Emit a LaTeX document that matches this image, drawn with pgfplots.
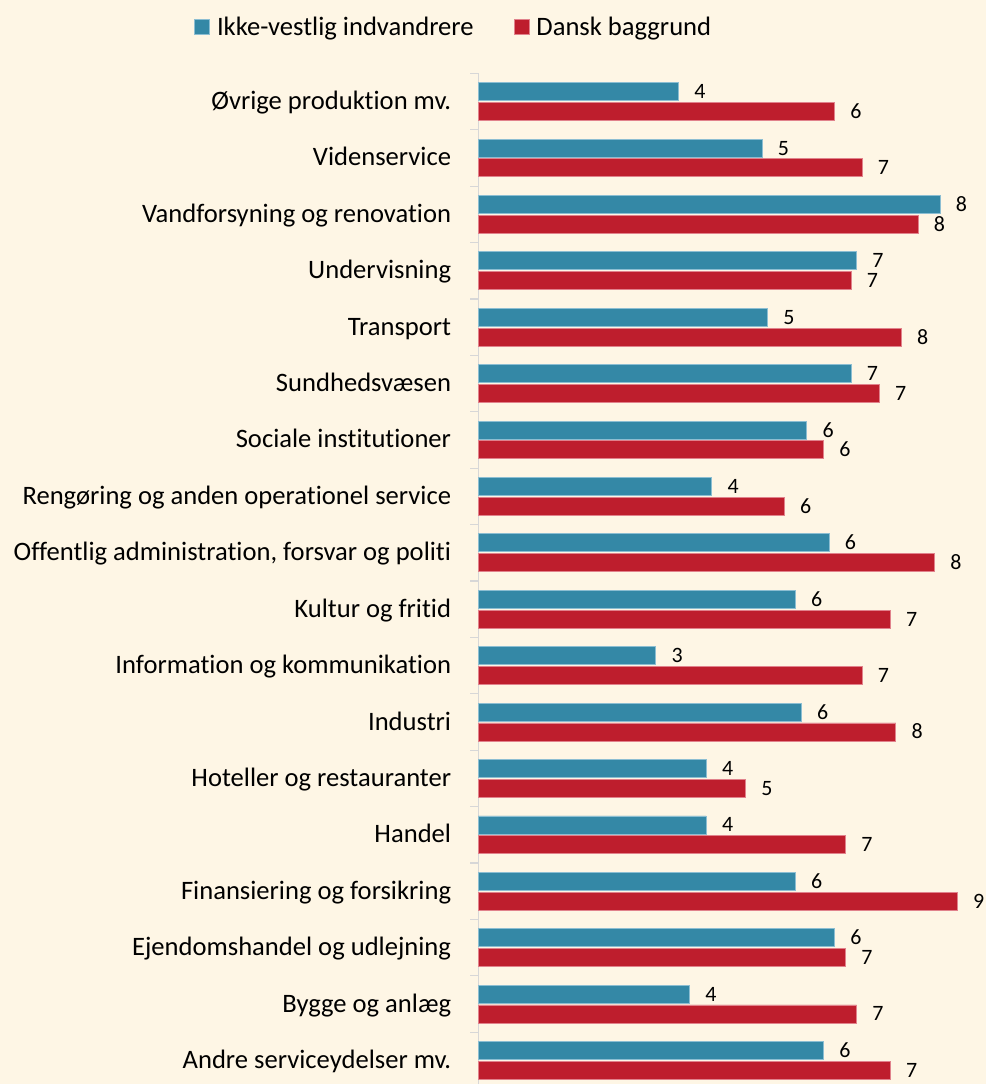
\documentclass[border=0pt]{standalone}
\usepackage{pgfplots}
\pgfplotsset{compat=1.18}
\usepackage{pgfplotstable}
\usepackage{fontspec}
\setmainfont{Carlito}[Ligatures={NoCommon}]
\definecolor{bg}{RGB}{254,246,229}
\definecolor{cblue}{RGB}{52,136,166}
\definecolor{cred}{RGB}{190,30,45}
\definecolor{cblueb}{RGB}{140,190,210}
\definecolor{credb}{RGB}{225,130,140}
\definecolor{axgray}{RGB}{215,215,215}
\pgfplotstableread{
idx ikke dansk
0 6.24 7.45
1 3.82 6.84
2 6.44 6.64
3 5.73 8.66
4 4.12 6.64
5 4.12 4.83
6 5.84 7.55
7 3.21 6.94
8 5.73 7.45
9 6.34 8.25
10 4.22 5.53
11 5.94 6.24
12 6.74 7.25
13 5.23 7.65
14 6.84 6.74
15 8.35 7.95
16 5.13 6.94
17 3.62 6.44
}\datatable
\begin{document}
\begin{tikzpicture}
\fill[bg] (0,0) rectangle (986bp,1084bp);
\useasboundingbox (0,0) rectangle (986bp,1084bp);
\begin{axis}[
  at={(478.3bp,-4.7bp)}, anchor=south west,
  scale only axis,
  width=497.7bp, height=1015.4bp,
  xmin=0, xmax=9,
  ymin=-0.5, ymax=17.5,
  xbar, bar width=18bp,
  axis x line=none,
  axis y line*=left,
  y axis line style={draw=axgray, line width=1.5bp},
  ytick={0,...,17},
  yticklabels={Andre serviceydelser mv.,Bygge og anlæg,Ejendomshandel og udlejning,Finansiering og forsikring,Handel,Hoteller og restauranter,Industri,Information og kommunikation,Kultur og fritid,{Offentlig administration, forsvar og politi},Rengøring og anden operationel service,Sociale institutioner,Sundhedsvæsen,Transport,Undervisning,Vandforsyning og renovation,Videnservice,Øvrige produktion mv.},
  minor ytick={-0.5,0.5,...,17.5},
  major tick length=0pt,
  minor tick length=8bp,
  tick align=outside,
  minor tick style={draw=axgray, line width=1.2bp},
  yticklabel style={font=\fontsize{26.7}{30}\selectfont, anchor=base east, inner sep=0pt, xshift=-27bp, yshift=-8bp},
  clip=false,
  /pgf/number format/assume math mode=true,
  nodes near coords,
  point meta=x,
  nodes near coords style={font=\fontsize{22}{26}\selectfont, anchor=base west, inner sep=0pt, xshift=15.5bp, yshift=-7bp, /pgf/number format/fixed, /pgf/number format/precision=0, text=black},
  legend columns=2,
  legend style={at={(-0.5712,1.046)}, anchor=west, draw=none, fill=none, inner sep=0pt,
    font=\fontsize{26.7}{30}\selectfont,
    /tikz/every odd column/.append style={column sep=5bp},
    /tikz/every even column/.append style={column sep=38bp}},
  legend image code/.code={\fill[#1] (0bp,-7.5bp) rectangle (15bp,7.5bp);},
]
\addplot[fill=cblue, draw=cblueb, line width=0.8bp, bar shift=9.9bp] table[x=ikke, y=idx] {\datatable};
\addplot[fill=cred, draw=credb, line width=0.8bp, bar shift=-9.9bp] table[x=dansk, y=idx] {\datatable};
\legend{Ikke-vestlig indvandrere, Dansk baggrund}
\end{axis}
\end{tikzpicture}
\end{document}
